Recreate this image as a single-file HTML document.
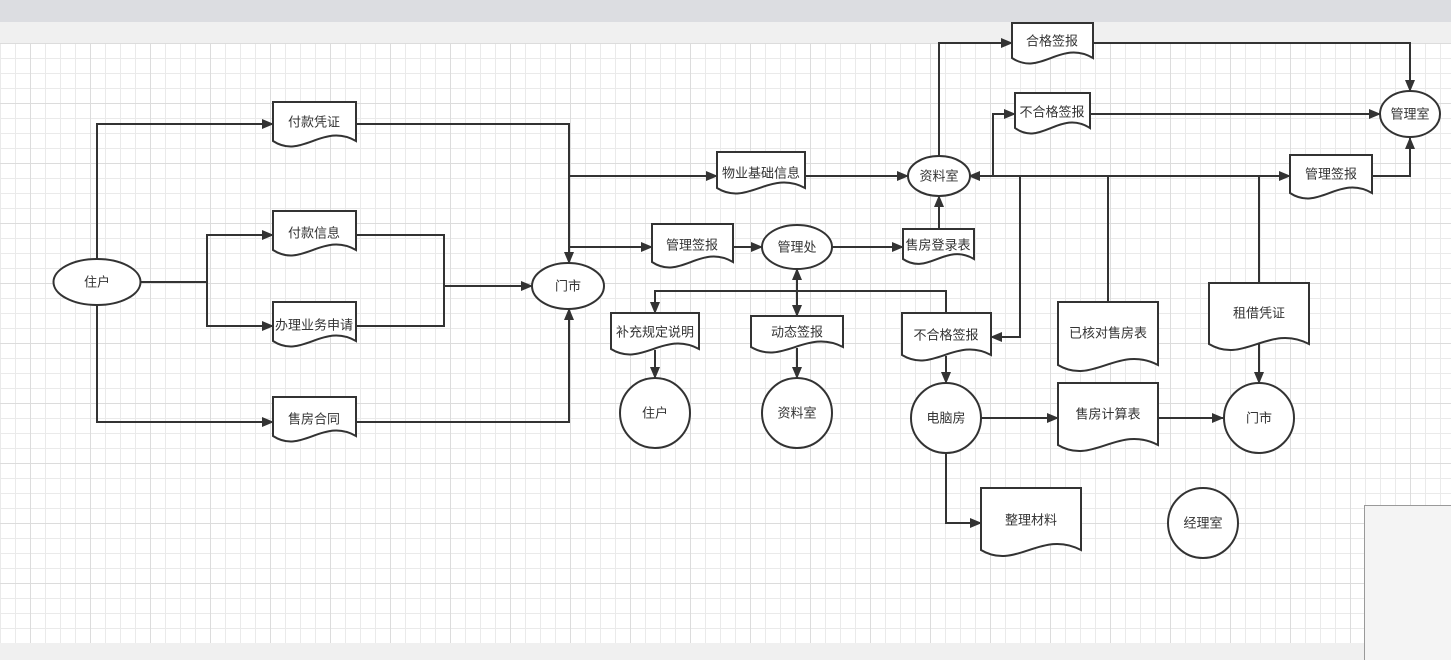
<!DOCTYPE html>
<html><head><meta charset="utf-8"><style>
html,body{margin:0;padding:0;width:1451px;height:659px;overflow:hidden;background:#f0f0f0;}
#top{position:absolute;left:0;top:0;width:1451px;height:22px;background:#dcdde1;}
#band{position:absolute;left:0;top:22px;width:1451px;height:21px;background:#f0f0f0;}
#grid{position:absolute;left:0;top:43px;width:1451px;height:600px;background-color:#fff;
background-image:
linear-gradient(to right,#dcdcdc 1px,transparent 1px),
linear-gradient(to bottom,#dcdcdc 1px,transparent 1px),
linear-gradient(to right,#eaeaea 1px,transparent 1px),
linear-gradient(to bottom,#eaeaea 1px,transparent 1px);
background-size:60px 60px,60px 60px,15px 15px,15px 15px;
background-position:30px 0,0 0,0 0,0 0;}
#panel{position:absolute;left:1364px;top:505px;width:87px;height:154px;background:#f4f4f4;border-left:1px solid #999;border-top:1px solid #999;}
svg{position:absolute;left:0;top:0;}
text{font-family:"Liberation Sans","Noto Sans CJK SC",sans-serif;font-size:13px;fill:#333;text-anchor:middle;dominant-baseline:central;}
</style></head><body>
<div id="top"></div><div id="band"></div><div id="grid"></div><div id="panel"></div>
<svg width="1451" height="659" viewBox="0 0 1451 659">
<defs><marker id="a" markerUnits="userSpaceOnUse" markerWidth="12" markerHeight="10" refX="11" refY="5" orient="auto"><path d="M0,0 L12,5 L0,10 Z" fill="#333"/></marker>
<marker id="s" markerUnits="userSpaceOnUse" markerWidth="12" markerHeight="10" refX="1" refY="5" orient="auto"><path d="M12,0 L0,5 L12,10 Z" fill="#333"/></marker></defs>
<g fill="none" stroke="#333" stroke-width="2">
<path d="M97,259 V124 H273" marker-end="url(#a)"/>
<path d="M356,124 H569 V263" marker-end="url(#a)"/>
<path d="M97,305 V422 H273" marker-end="url(#a)"/>
<path d="M356,422 H569 V309" marker-end="url(#a)"/>
<path d="M140,282 H207"/>
<path d="M207,282 V235 H273" marker-end="url(#a)"/>
<path d="M207,282 V326 H273" marker-end="url(#a)"/>
<path d="M356,235 H444 V326 H356"/>
<path d="M444,286 H532" marker-end="url(#a)"/>
<path d="M569,176 H717" marker-end="url(#a)"/>
<path d="M569,247 H652" marker-end="url(#a)"/>
<path d="M733,247 H762" marker-end="url(#a)"/>
<path d="M805,176 H908" marker-end="url(#a)"/>
<path d="M832,247 H903" marker-end="url(#a)"/>
<path d="M939,229 V196" marker-end="url(#a)"/>
<path d="M939,156 V43 H1012" marker-end="url(#a)"/>
<path d="M1093,43 H1410 V91" marker-end="url(#a)"/>
<path d="M1290,176 H969" marker-end="url(#a)"/>
<path d="M1100,176 H1290" marker-end="url(#a)"/>
<path d="M993,176 V114 H1015" marker-end="url(#a)"/>
<path d="M1090,114 H1380" marker-end="url(#a)"/>
<path d="M1020,176 V337 H991" marker-end="url(#a)"/>
<path d="M1108,302 V176"/>
<path d="M1259,283 V176"/>
<path d="M1259,344 V383" marker-end="url(#a)"/>
<path d="M1372,176 H1410 V138" marker-end="url(#a)"/>
<path d="M797,269 V316" marker-start="url(#s)" marker-end="url(#a)"/>
<path d="M946,313 V291 H655 V313" marker-end="url(#a)"/>
<path d="M655,350 V378" marker-end="url(#a)"/>
<path d="M797,348 V378" marker-end="url(#a)"/>
<path d="M946,356 V383" marker-end="url(#a)"/>
<path d="M981,418 H1058" marker-end="url(#a)"/>
<path d="M1158,418 H1223" marker-end="url(#a)"/>
<path d="M946,453 V523 H981" marker-end="url(#a)"/>
</g>
<g fill="#fff" stroke="#333" stroke-width="2">
<path d="M273,102 H356 V141 C322.8,122 302,160 273,141 Z"/>
<path d="M273,211 H356 V250 C322.8,231 302,269 273,250 Z"/>
<path d="M273,302 H356 V341 C322.8,322 302,360 273,341 Z"/>
<path d="M273,397 H356 V436 C322.8,417 302,455 273,436 Z"/>
<path d="M717,152 H805 V188 C769.8,169 747.8,207 717,188 Z"/>
<path d="M652,224 H733 V262 C700.6,243 680.4,281 652,262 Z"/>
<path d="M903,229 H974 V259 C945.6,242 927.9,276 903,259 Z"/>
<path d="M611,313 H699 V349 C663.8,330 641.8,368 611,349 Z"/>
<path d="M751,316 H843 V347 C806.2,328 783.2,366 751,347 Z"/>
<path d="M902,313 H991 V355 C955.4,336 933.2,374 902,355 Z"/>
<path d="M981,488 H1081 V550 C1041,529 1016,571 981,550 Z"/>
<path d="M1058,383 H1158 V445 C1118,424 1093,466 1058,445 Z"/>
<path d="M1058,302 H1158 V365 C1118,344 1093,386 1058,365 Z"/>
<path d="M1209,283 H1309 V344 C1269,323 1244,365 1209,344 Z"/>
<path d="M1012,23 H1093 V58 C1060.6,39 1040.4,77 1012,58 Z"/>
<path d="M1015,93 H1090 V128 C1060,109 1041,147 1015,128 Z"/>
<path d="M1290,155 H1372 V193 C1339.2,174 1318.7,212 1290,193 Z"/>
<ellipse cx="97" cy="282" rx="43.5" ry="23"/>
<ellipse cx="568" cy="286" rx="36" ry="23"/>
<ellipse cx="939" cy="176" rx="31" ry="20"/>
<ellipse cx="1410" cy="114" rx="30" ry="23"/>
<ellipse cx="797" cy="247" rx="35" ry="22"/>
<circle cx="655" cy="413" r="35"/>
<circle cx="797" cy="413" r="35"/>
<circle cx="946" cy="418" r="35"/>
<circle cx="1259" cy="418" r="35"/>
<circle cx="1203" cy="523" r="35"/>
</g>
<g>
<text x="314" y="122">付款凭证</text>
<text x="314" y="233">付款信息</text>
<text x="314" y="325">办理业务申请</text>
<text x="314" y="419">售房合同</text>
<text x="761" y="173">物业基础信息</text>
<text x="692" y="245">管理签报</text>
<text x="938" y="245">售房登录表</text>
<text x="655" y="332">补充规定说明</text>
<text x="797" y="332">动态签报</text>
<text x="946" y="335">不合格签报</text>
<text x="1031" y="520">整理材料</text>
<text x="1108" y="414">售房计算表</text>
<text x="1108" y="333">已核对售房表</text>
<text x="1259" y="313">租借凭证</text>
<text x="1052" y="41">合格签报</text>
<text x="1052" y="112">不合格签报</text>
<text x="1331" y="174">管理签报</text>
<text x="97" y="282">住户</text>
<text x="568" y="286">门市</text>
<text x="939" y="176">资料室</text>
<text x="1410" y="114">管理室</text>
<text x="797" y="247">管理处</text>
<text x="655" y="413">住户</text>
<text x="797" y="413">资料室</text>
<text x="946" y="418">电脑房</text>
<text x="1259" y="418">门市</text>
<text x="1203" y="523">经理室</text>
</g>
</svg>
</body></html>
